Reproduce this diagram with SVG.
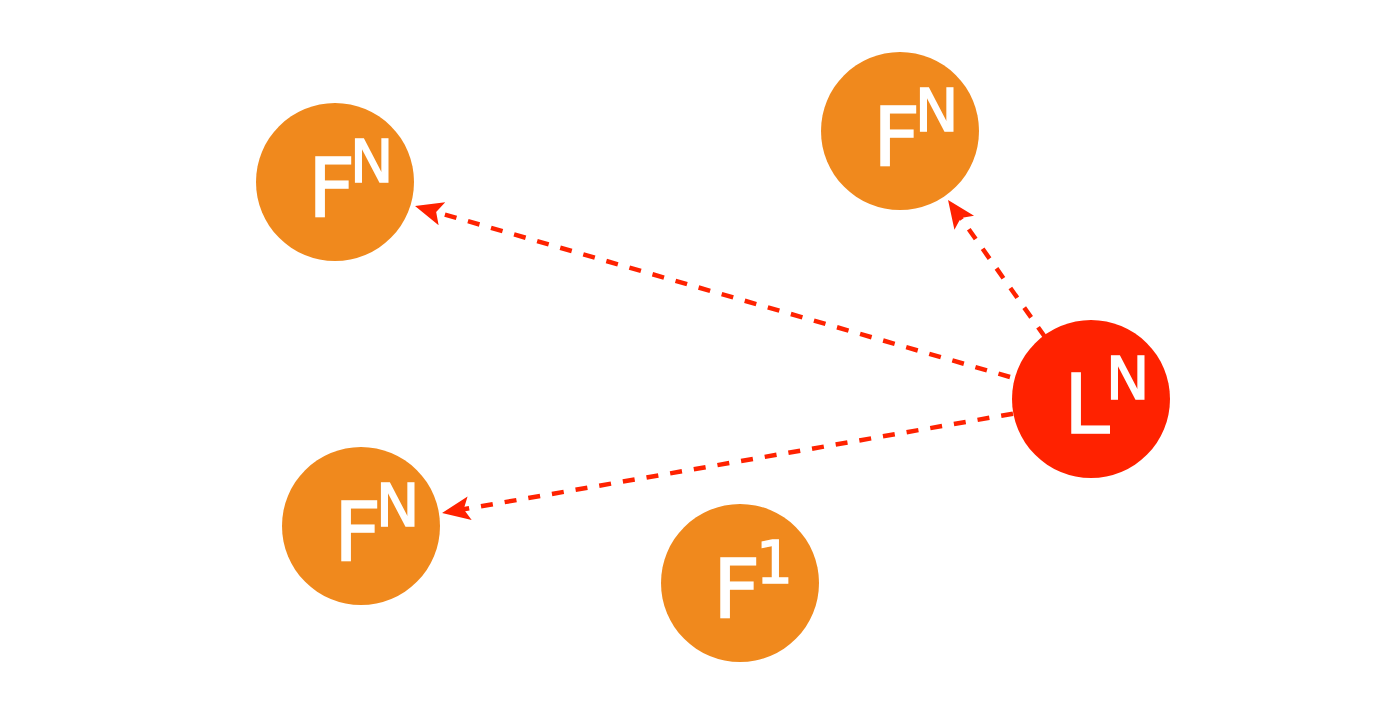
<svg xmlns="http://www.w3.org/2000/svg" width="1384" height="718" viewBox="0 0 1384 718">
  <style>
    .f { fill: #f0891d; }
    .l { fill: #ff2200; }
    .t { fill: #ffffff; font-family: "DejaVu Sans", "Liberation Sans", sans-serif; font-size: 82px; stroke: #ffffff; stroke-width: 1.5px; }
    .s { font-size: 58px; }
    .c { stroke: #ff2200; stroke-width: 4.5; stroke-dasharray: 12 12; fill: none; marker-end: url(#arr); }
  </style>
  <defs>
    <marker id="arr" markerUnits="userSpaceOnUse" markerWidth="30" markerHeight="26" refX="12" refY="12" orient="auto" viewBox="0 0 30 26">
      <path d="M0,0 L28,12 L0,24 L6,12 z" fill="#ff2200"/>
    </marker>
  </defs>
  <rect width="1384" height="718" fill="#ffffff"/>
  <g id="node-f-topleft">
    <circle class="f" cx="335" cy="182" r="79"/>
    <text class="t" x="308" y="217">F<tspan class="s" x="350" y="182">N</tspan></text>
  </g>
  <g id="node-f-topright">
    <circle class="f" cx="900" cy="131" r="79"/>
    <text class="t" x="873" y="166">F<tspan class="s" x="915" y="131">N</tspan></text>
  </g>
  <g id="node-f-bottomleft">
    <circle class="f" cx="361" cy="526" r="79"/>
    <text class="t" x="334" y="561">F<tspan class="s" x="376" y="526">N</tspan></text>
  </g>
  <g id="node-f1">
    <circle class="f" cx="740" cy="583" r="79"/>
    <text class="t" x="713" y="618">F<tspan class="s" x="756" y="583">1</tspan></text>
  </g>
  <g id="node-l">
    <circle class="l" cx="1091" cy="399" r="79"/>
    <text class="t" x="1064" y="433">L<tspan class="s" x="1106" y="399">N</tspan></text>
  </g>
  <g id="connectors">
    <line class="c" x1="1010" y1="377" x2="430.4" y2="210.4"/>
    <line class="c" x1="1045" y1="337" x2="957.3" y2="213"/>
    <line class="c" x1="1013" y1="413.7" x2="457.8" y2="510.3"/>
  </g>
</svg>
